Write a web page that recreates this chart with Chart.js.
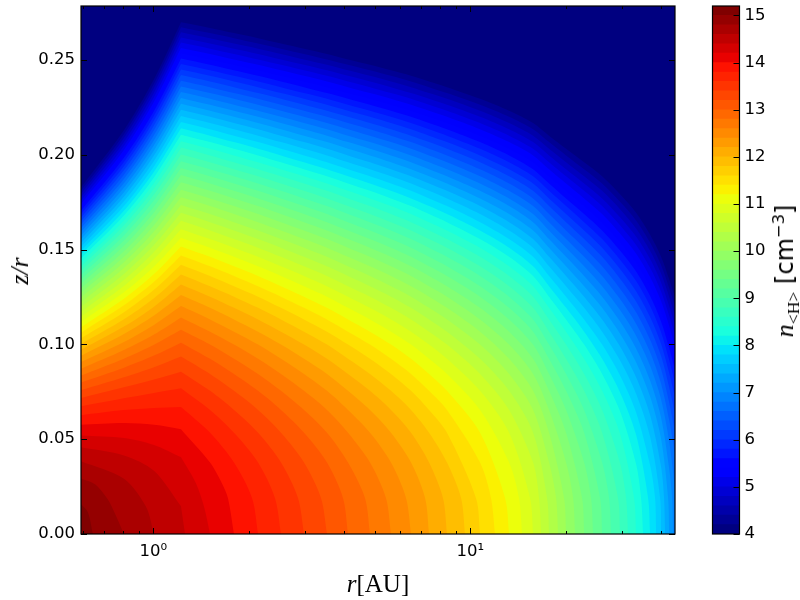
<!DOCTYPE html>
<html>
<head>
<meta charset="utf-8">
<script src="https://cdn.jsdelivr.net/npm/chart.js@4"></script>
<style>
    body { margin: 0; background: #fff; }
    canvas { position: absolute; top: 0; }
    #densityChart { left: 0; }
    #colorbarChart { left: 700px; }
    .label { position: absolute; white-space: nowrap; line-height: 1; color: #000; transform: translate(-50%, -50%); }
    .math { font-family: "Liberation Serif", serif; }
    .rot { transform: translate(-50%, -50%) rotate(-90deg); }
    .label sub { font-size: 68%; line-height: 0; }
    .label sup { font-size: 68%; line-height: 0; }
</style>
</head>
<body>
<canvas id="densityChart" width="800" height="600"></canvas>
<canvas id="colorbarChart" width="100" height="600"></canvas>
<div class="label math" style="left:378px; top:583px; font-size:25px;"><i>r</i>[AU]</div>
<div class="label math rot" style="left:20px; top:271px; font-size:26px;"><i>z/r</i></div>
<div class="label rot" style="left:785px; top:271px; font-size:24px; font-family:'DejaVu Sans';"><span class="math" style="font-size:26px;"><i>n</i><sub>&lt;H&gt;</sub></span> [cm<sup>&minus;3</sup>]</div>
<script>
// contour levels of n<H>, one band of colour above each level
const levels = [15.0, 14.8, 14.6, 14.4, 14.2, 14.0, 13.8, 13.6, 13.4, 13.2, 13.0, 12.8, 12.6, 12.4, 12.2, 12.0, 11.8, 11.6, 11.4, 11.2, 11.0, 10.8, 10.6, 10.4, 10.2, 10.0, 9.8, 9.6, 9.4, 9.2, 9.0, 8.8, 8.6, 8.4, 8.2, 8.0, 7.8, 7.6, 7.4, 7.2, 7.0, 6.8, 6.6, 6.4, 6.2, 6.0, 5.8, 5.6, 5.4, 5.2, 5.0, 4.8, 4.6, 4.4, 4.2, 4.0];

// r [AU] of the columns, columnR[3] is the kink in the contours
const columnR = [0.5916, 0.808, 1.005, 1.223, 1.510, 1.797, 2.140, 2.528, 2.988, 3.531, 4.113, 4.825, 5.62, 6.50, 7.41, 8.44, 10.73, 13.25, 15.77, 17.71, 20.04, 22.85, 26.04, 29.66, 33.32, 36.89, 39.95, 42.35, 44.2];

// z/r of each contour at those columns, same order as levels
const contourZ = [
    [.0157],
    [.0293],
    [.0384, .0292],
    [.0457, .0414, .0333, .0146],
    [.0520, .0507, .0470, .0405],
    [.0576, .0585, .0576, .0553, .0377],
    [.0627, .0654, .0665, .0670, .0534, .0377],
    [.0674, .0716, .0744, .0769, .0654, .0534, .0377],
    [.0718, .0774, .0815, .0856, .0755, .0654, .0534, .0377],
    [.0759, .0827, .0880, .0936, .0844, .0755, .0654, .0534, .0377],
    [.0799, .0877, .0941, .1009, .0924, .0844, .0755, .0654, .0534, .0377],
    [.0836, .0925, .0998, .1077, .0999, .0924, .0844, .0755, .0654, .0534, .0377],
    [.0872, .0970, .1052, .1142, .1067, .0999, .0924, .0844, .0755, .0654, .0534, .0377],
    [.0907, .1013, .1103, .1202, .1132, .1067, .0999, .0924, .0844, .0755, .0654, .0534, .0377],
    [.0940, .1055, .1152, .1260, .1193, .1132, .1067, .0999, .0924, .0844, .0755, .0654, .0534, .0377],
    [.0972, .1094, .1199, .1316, .1252, .1193, .1132, .1067, .0999, .0924, .0844, .0755, .0654, .0534, .0377],
    [.1003, .1133, .1244, .1369, .1307, .1252, .1193, .1132, .1067, .0999, .0924, .0844, .0755, .0654, .0534, .0377],
    [.1033, .1170, .1288, .1420, .1361, .1307, .1252, .1193, .1132, .1067, .0999, .0924, .0844, .0755, .0654, .0534],
    [.1062, .1206, .1330, .1469, .1412, .1361, .1307, .1252, .1193, .1132, .1067, .0999, .0924, .0844, .0755, .0654, .0377],
    [.1091, .1241, .1371, .1517, .1462, .1412, .1361, .1307, .1252, .1193, .1132, .1067, .0999, .0924, .0844, .0755, .0534],
    [.1119, .1275, .1411, .1563, .1510, .1462, .1412, .1361, .1307, .1252, .1193, .1132, .1067, .0999, .0924, .0844, .0654, .0377],
    [.1146, .1308, .1450, .1608, .1556, .1510, .1462, .1412, .1361, .1307, .1252, .1193, .1132, .1067, .0999, .0924, .0755, .0534],
    [.1172, .1340, .1487, .1652, .1601, .1556, .1510, .1462, .1412, .1361, .1307, .1252, .1193, .1132, .1067, .0999, .0844, .0654, .0377],
    [.1198, .1372, .1524, .1694, .1645, .1601, .1556, .1510, .1462, .1412, .1361, .1307, .1252, .1193, .1132, .1067, .0924, .0755, .0534],
    [.1223, .1403, .1560, .1736, .1688, .1645, .1601, .1556, .1510, .1462, .1412, .1361, .1307, .1252, .1193, .1132, .0999, .0844, .0654, .0377],
    [.1248, .1433, .1595, .1776, .1730, .1688, .1645, .1601, .1556, .1510, .1462, .1412, .1361, .1307, .1252, .1193, .1067, .0924, .0755, .0534],
    [.1273, .1462, .1629, .1816, .1770, .1730, .1688, .1645, .1601, .1556, .1510, .1462, .1412, .1361, .1307, .1252, .1132, .0999, .0844, .0654, .0377],
    [.1296, .1491, .1663, .1855, .1810, .1770, .1730, .1688, .1645, .1601, .1556, .1510, .1462, .1412, .1361, .1307, .1193, .1067, .0924, .0755, .0534],
    [.1320, .1520, .1696, .1893, .1849, .1810, .1770, .1730, .1688, .1645, .1601, .1556, .1510, .1462, .1412, .1361, .1252, .1132, .0999, .0844, .0654, .0377],
    [.1343, .1548, .1728, .1930, .1887, .1849, .1810, .1770, .1730, .1688, .1645, .1601, .1556, .1510, .1462, .1412, .1307, .1193, .1067, .0924, .0755, .0534],
    [.1366, .1575, .1760, .1966, .1924, .1887, .1849, .1810, .1770, .1730, .1688, .1645, .1601, .1556, .1510, .1462, .1361, .1252, .1132, .0999, .0844, .0654, .0377],
    [.1388, .1602, .1791, .2002, .1961, .1924, .1887, .1849, .1810, .1770, .1730, .1688, .1645, .1601, .1556, .1510, .1412, .1307, .1193, .1067, .0924, .0755, .0534],
    [.1410, .1628, .1822, .2038, .1997, .1961, .1924, .1887, .1849, .1810, .1770, .1730, .1688, .1645, .1601, .1556, .1462, .1361, .1252, .1132, .0999, .0844, .0654, .0373],
    [.1431, .1654, .1852, .2072, .2032, .1997, .1961, .1924, .1887, .1849, .1810, .1770, .1730, .1688, .1645, .1601, .1510, .1412, .1307, .1193, .1067, .0924, .0755, .0529],
    [.1453, .1680, .1881, .2106, .2067, .2032, .1997, .1961, .1924, .1887, .1849, .1810, .1770, .1730, .1688, .1645, .1556, .1462, .1361, .1252, .1132, .0999, .0844, .0647, .0369],
    [.1474, .1705, .1911, .2140, .2101, .2067, .2032, .1997, .1961, .1924, .1887, .1849, .1810, .1770, .1730, .1688, .1601, .1510, .1412, .1307, .1193, .1067, .0924, .0747, .0523],
    [.1494, .1730, .1939, .2173, .2135, .2101, .2067, .2032, .1997, .1961, .1924, .1887, .1849, .1810, .1770, .1730, .1645, .1556, .1462, .1361, .1252, .1132, .0999, .0836, .0641, .0362],
    [.1515, .1755, .1968, .2205, .2168, .2135, .2101, .2067, .2032, .1997, .1961, .1924, .1887, .1849, .1810, .1770, .1688, .1601, .1510, .1412, .1307, .1193, .1067, .0915, .0740, .0513],
    [.1535, .1779, .1996, .2238, .2201, .2168, .2135, .2101, .2067, .2032, .1997, .1961, .1924, .1887, .1849, .1810, .1730, .1645, .1556, .1462, .1361, .1252, .1132, .0989, .0827, .0628, .0355],
    [.1555, .1803, .2023, .2269, .2233, .2201, .2168, .2135, .2101, .2067, .2032, .1997, .1961, .1924, .1887, .1849, .1770, .1688, .1601, .1510, .1412, .1307, .1193, .1056, .0906, .0725, .0502],
    [.1574, .1826, .2050, .2300, .2264, .2233, .2201, .2168, .2135, .2101, .2067, .2032, .1997, .1961, .1924, .1887, .1810, .1730, .1645, .1556, .1462, .1361, .1252, .1121, .0979, .0810, .0615, .0347],
    [.1594, .1850, .2077, .2331, .2296, .2264, .2233, .2201, .2168, .2135, .2101, .2067, .2032, .1997, .1961, .1924, .1849, .1770, .1688, .1601, .1510, .1412, .1307, .1181, .1046, .0887, .0710, .0491, .0240],
    [.1613, .1873, .2103, .2361, .2326, .2296, .2264, .2233, .2201, .2168, .2135, .2101, .2067, .2032, .1997, .1961, .1887, .1810, .1730, .1645, .1556, .1462, .1361, .1239, .1109, .0959, .0793, .0602, .0416],
    [.1632, .1895, .2130, .2391, .2357, .2326, .2296, .2264, .2233, .2201, .2168, .2135, .2101, .2067, .2032, .1997, .1924, .1849, .1770, .1688, .1601, .1510, .1412, .1294, .1169, .1024, .0869, .0695, .0537],
    [.1650, .1918, .2155, .2421, .2387, .2357, .2326, .2296, .2264, .2233, .2201, .2168, .2135, .2101, .2067, .2032, .1961, .1887, .1810, .1730, .1645, .1556, .1462, .1347, .1227, .1087, .0939, .0776, .0635],
    [.1669, .1940, .2181, .2450, .2417, .2387, .2357, .2326, .2296, .2264, .2233, .2201, .2168, .2135, .2101, .2067, .1997, .1924, .1849, .1770, .1688, .1601, .1510, .1398, .1281, .1145, .1003, .0850, .0721],
    [.1687, .1962, .2206, .2479, .2446, .2417, .2387, .2357, .2326, .2296, .2264, .2233, .2201, .2168, .2135, .2101, .2032, .1961, .1887, .1810, .1730, .1645, .1556, .1447, .1334, .1202, .1064, .0919, .0797],
    [.1705, .1984, .2231, .2508, .2475, .2446, .2417, .2387, .2357, .2326, .2296, .2264, .2233, .2201, .2168, .2135, .2067, .1997, .1924, .1849, .1770, .1688, .1601, .1495, .1384, .1255, .1121, .0982, .0866],
    [.1723, .2005, .2256, .2536, .2503, .2475, .2446, .2417, .2387, .2357, .2326, .2296, .2264, .2233, .2201, .2168, .2101, .2032, .1961, .1887, .1810, .1730, .1645, .1540, .1433, .1307, .1177, .1041, .0930],
    [.1741, .2026, .2280, .2564, .2532, .2503, .2475, .2446, .2417, .2387, .2357, .2326, .2296, .2264, .2233, .2201, .2135, .2067, .1997, .1924, .1849, .1770, .1688, .1585, .1480, .1356, .1229, .1098, .0990],
    [.1758, .2047, .2304, .2592, .2560, .2532, .2503, .2475, .2446, .2417, .2387, .2357, .2326, .2296, .2264, .2233, .2168, .2101, .2032, .1961, .1887, .1810, .1730, .1629, .1525, .1404, .1279, .1152, .1047],
    [.1776, .2068, .2328, .2619, .2587, .2560, .2532, .2503, .2475, .2446, .2417, .2387, .2357, .2326, .2296, .2264, .2201, .2135, .2067, .1997, .1924, .1849, .1770, .1671, .1569, .1450, .1327, .1202, .1101],
    [.1793, .2089, .2352, .2646, .2615, .2587, .2560, .2532, .2503, .2475, .2446, .2417, .2387, .2357, .2326, .2296, .2233, .2168, .2101, .2032, .1961, .1887, .1810, .1713, .1612, .1494, .1374, .1252, .1152],
    [.1810, .2109, .2375, .2673, .2642, .2615, .2587, .2560, .2532, .2503, .2475, .2446, .2417, .2387, .2357, .2326, .2264, .2201, .2135, .2067, .1997, .1924, .1849, .1752, .1654, .1537, .1419, .1299, .1201],
    [.1827, .2129, .2398, .2699, .2669, .2642, .2615, .2587, .2560, .2532, .2503, .2475, .2446, .2417, .2387, .2357, .2296, .2233, .2168, .2101, .2032, .1961, .1887, .1792, .1695, .1579, .1463, .1345, .1248],
    [.2785]
];

// where each contour runs down to the midplane: [r, z/r] after its last column
const contourEnds = [
    [[.622, .0115], [.645, 0]],
    [[.655, .0262], [.720, .0180], [.763, .0095], [.808, 0]],
    [[.948, .0145], [1.005, 0]],
    [[1.259, 0]],
    [[1.364, .0267], [1.445, .0145], [1.510, 0]],
    [[1.647, .0267], [1.720, .0189], [1.797, 0]],
    [[2.049, .0189], [2.140, 0]],
    [[2.420, .0189], [2.528, 0]],
    [[2.861, .0189], [2.988, 0]],
    [[3.381, .0189], [3.531, 0]],
    [[3.967, .0189], [4.113, 0]],
    [[4.654, .0189], [4.825, 0]],
    [[5.42, .0189], [5.62, 0]],
    [[6.27, .0189], [6.50, 0]],
    [[7.20, .0189], [7.41, 0]],
    [[8.20, .0189], [8.44, 0]],
    [[9.35, .0189], [9.62, 0]],
    [[10.42, .0189], [10.73, 0]],
    [[11.62, .0189], [11.96, 0]],
    [[12.87, .0189], [13.25, 0]],
    [[14.24, .0189], [14.56, 0]],
    [[15.43, .0189], [15.77, 0]],
    [[16.47, .0189], [16.72, 0]],
    [[17.46, .0189], [17.71, 0]],
    [[18.64, .0189], [18.91, 0]],
    [[19.75, .0189], [20.04, 0]],
    [[21.09, .0189], [21.39, 0]],
    [[22.51, .0189], [22.85, 0]],
    [[24.03, .0189], [24.38, 0]],
    [[25.66, .0189], [26.04, 0]],
    [[27.39, .0189], [27.79, 0]],
    [[29.23, .0189], [29.66, 0]],
    [[30.99, .0189], [31.44, 0]],
    [[32.84, .0189], [33.32, 0]],
    [[34.56, .0189], [35.06, 0]],
    [[36.36, .0189], [36.89, 0]],
    [[38.25, .0189], [38.53, 0]],
    [[39.67, .0189], [39.95, 0]],
    [[40.83, .0189], [41.13, 0]],
    [[42.05, .0189], [42.35, 0]],
    [[43.28, .0189], [43.59, 0]],
    [], [], [], [], [], [], [], [], [], [], [], [], [], [],
    [[44.2, .2785]]
];

const xMajorTicks = [1, 10];
const xMinorTicks = [0.6, 0.7, 0.8, 0.9, 2, 3, 4, 5, 6, 7, 8, 9, 20, 30, 40];
const xTickNames = { 1: '10\u2070', 10: '10\u00b9' };
const yTicks = [0, 0.05, 0.10, 0.15, 0.20, 0.25];
const barTicks = [4, 5, 6, 7, 8, 9, 10, 11, 12, 13, 14, 15];

// matplotlib jet
const ramp = (t, pts) => {
    for (let i = 1; i < pts.length; i++) {
        if (t <= pts[i][0]) {
            const a = pts[i - 1], b = pts[i];
            return a[1] + (b[1] - a[1]) * (t - a[0]) / (b[0] - a[0]);
        }
    }
    return pts[pts.length - 1][1];
};
const jet = (t) => {
    const r = ramp(t, [[0, 0], [.35, 0], [.66, 1], [.89, 1], [1, .5]]);
    const g = ramp(t, [[0, 0], [.125, 0], [.375, 1], [.64, 1], [.91, 0], [1, 0]]);
    const b = ramp(t, [[0, .5], [.11, 1], [.34, 1], [.65, 0], [1, 0]]);
    return `rgb(${Math.round(r * 255)},${Math.round(g * 255)},${Math.round(b * 255)})`;
};
const bandColor = (level) => jet((level + 0.1 - 4.1) / 11.0);

const tickFont = { family: '"DejaVu Sans"', size: 16.5 };
const noPadding = (s) => { s.paddingTop = 0; s.paddingBottom = 0; s.paddingLeft = 0; s.paddingRight = 0; };

// matplotlib style frame with ticks pointing inwards
const frameTicks = {
    id: 'frameTicks',
    afterDatasetsDraw(chart) {
        const { ctx, chartArea: a, scales } = chart;
        ctx.save();
        ctx.strokeStyle = '#000';
        ctx.lineWidth = 1;
        ctx.beginPath();
        const tick = (x1, y1, x2, y2) => {
            ctx.moveTo(x1, y1);
            ctx.lineTo(x2, y2);
        };
        if (scales.x.type === 'logarithmic') {
            const mark = (v, len) => {
                const x = Math.round(scales.x.getPixelForValue(v)) + 0.5;
                tick(x, a.bottom, x, a.bottom - len);
                tick(x, a.top, x, a.top + len);
            };
            xMajorTicks.forEach(v => mark(v, 6));
            xMinorTicks.forEach(v => mark(v, 3));
            yTicks.forEach(v => {
                const y = Math.round(scales.y.getPixelForValue(v)) + 0.5;
                tick(a.left, y, a.left + 6, y);
                tick(a.right, y, a.right - 6, y);
            });
        } else {
            barTicks.forEach(v => {
                const y = Math.round(scales.y.getPixelForValue(v)) + 0.5;
                tick(a.right, y, a.right - 6, y);
            });
        }
        ctx.stroke();
        ctx.lineWidth = 1.2;
        ctx.strokeRect(a.left, a.top, a.right - a.left, a.bottom - a.top);
        ctx.restore();
    }
};

// One filled piece of a contour, curved between its points
const contourPiece = (level, points) => ({
    label: String(level),
    data: points,
    showLine: true,
    fill: 'origin',
    backgroundColor: bandColor(level),
    borderWidth: 0,
    pointRadius: 0,
    tension: 0.3
});

document.addEventListener('DOMContentLoaded', function() {
    // Density contours, lowest level painted first so higher ones cover it.
    // Split at the kink so that the corner stays sharp.
    const contourSets = [];
    levels.forEach((level, i) => {
        const points = contourZ[i].map((z, j) => ({ x: columnR[j], y: z }))
            .concat(contourEnds[i].map(p => ({ x: p[0], y: p[1] })));
        if (contourZ[i].length >= 4) {
            contourSets.push(contourPiece(level, points.slice(0, 4)));
            contourSets.push(contourPiece(level, points.slice(3)));
        } else {
            contourSets.push(contourPiece(level, points));
        }
    });

    new Chart(document.getElementById('densityChart').getContext('2d'), {
        type: 'scatter',
        data: { datasets: contourSets },
        options: {
            responsive: false,
            animation: false,
            layout: { padding: { top: 6, right: 125 } },
            plugins: { legend: { display: false }, tooltip: { enabled: false } },
            scales: {
                x: {
                    type: 'logarithmic',
                    min: 0.5916,
                    max: 44.2,
                    grid: { display: false, drawTicks: false },
                    border: { display: false },
                    afterBuildTicks: (s) => { s.ticks = xMajorTicks.map(v => ({ value: v })); },
                    afterFit: (s) => { s.height = 66; noPadding(s); },
                    ticks: {
                        autoSkip: false,
                        maxRotation: 0,
                        padding: 8,
                        color: '#000',
                        font: tickFont,
                        callback: (v) => xTickNames[v] || ''
                    }
                },
                y: {
                    min: 0,
                    max: 0.2785,
                    grid: { display: false, drawTicks: false },
                    border: { display: false },
                    afterBuildTicks: (s) => { s.ticks = yTicks.map(v => ({ value: v })); },
                    afterFit: (s) => { s.width = 81; noPadding(s); },
                    ticks: {
                        padding: 6,
                        color: '#000',
                        font: tickFont,
                        callback: (v) => v.toFixed(2)
                    }
                }
            }
        },
        plugins: [frameTicks]
    });

    // Colorbar, one bar per band from the bottom up to the top of its band
    const barSets = levels.slice().reverse().map((level) => ({
        label: String(level),
        data: [[4, level + 0.2]],
        backgroundColor: bandColor(level),
        borderWidth: 0,
        grouped: false,
        barPercentage: 1,
        categoryPercentage: 1
    }));

    new Chart(document.getElementById('colorbarChart').getContext('2d'), {
        type: 'bar',
        data: { labels: [''], datasets: barSets },
        options: {
            responsive: false,
            animation: false,
            layout: { padding: { top: 6, bottom: 66, left: 12.5 } },
            plugins: { legend: { display: false }, tooltip: { enabled: false } },
            scales: {
                x: { display: false },
                y: {
                    position: 'right',
                    min: 4,
                    max: 15.2,
                    grid: { display: false, drawTicks: false },
                    border: { display: false },
                    afterBuildTicks: (s) => { s.ticks = barTicks.map(v => ({ value: v })); },
                    afterFit: (s) => { s.width = 60.5; noPadding(s); },
                    ticks: { padding: 5, color: '#000', font: tickFont }
                }
            }
        },
        plugins: [frameTicks]
    });
});
</script>
</body>
</html>
